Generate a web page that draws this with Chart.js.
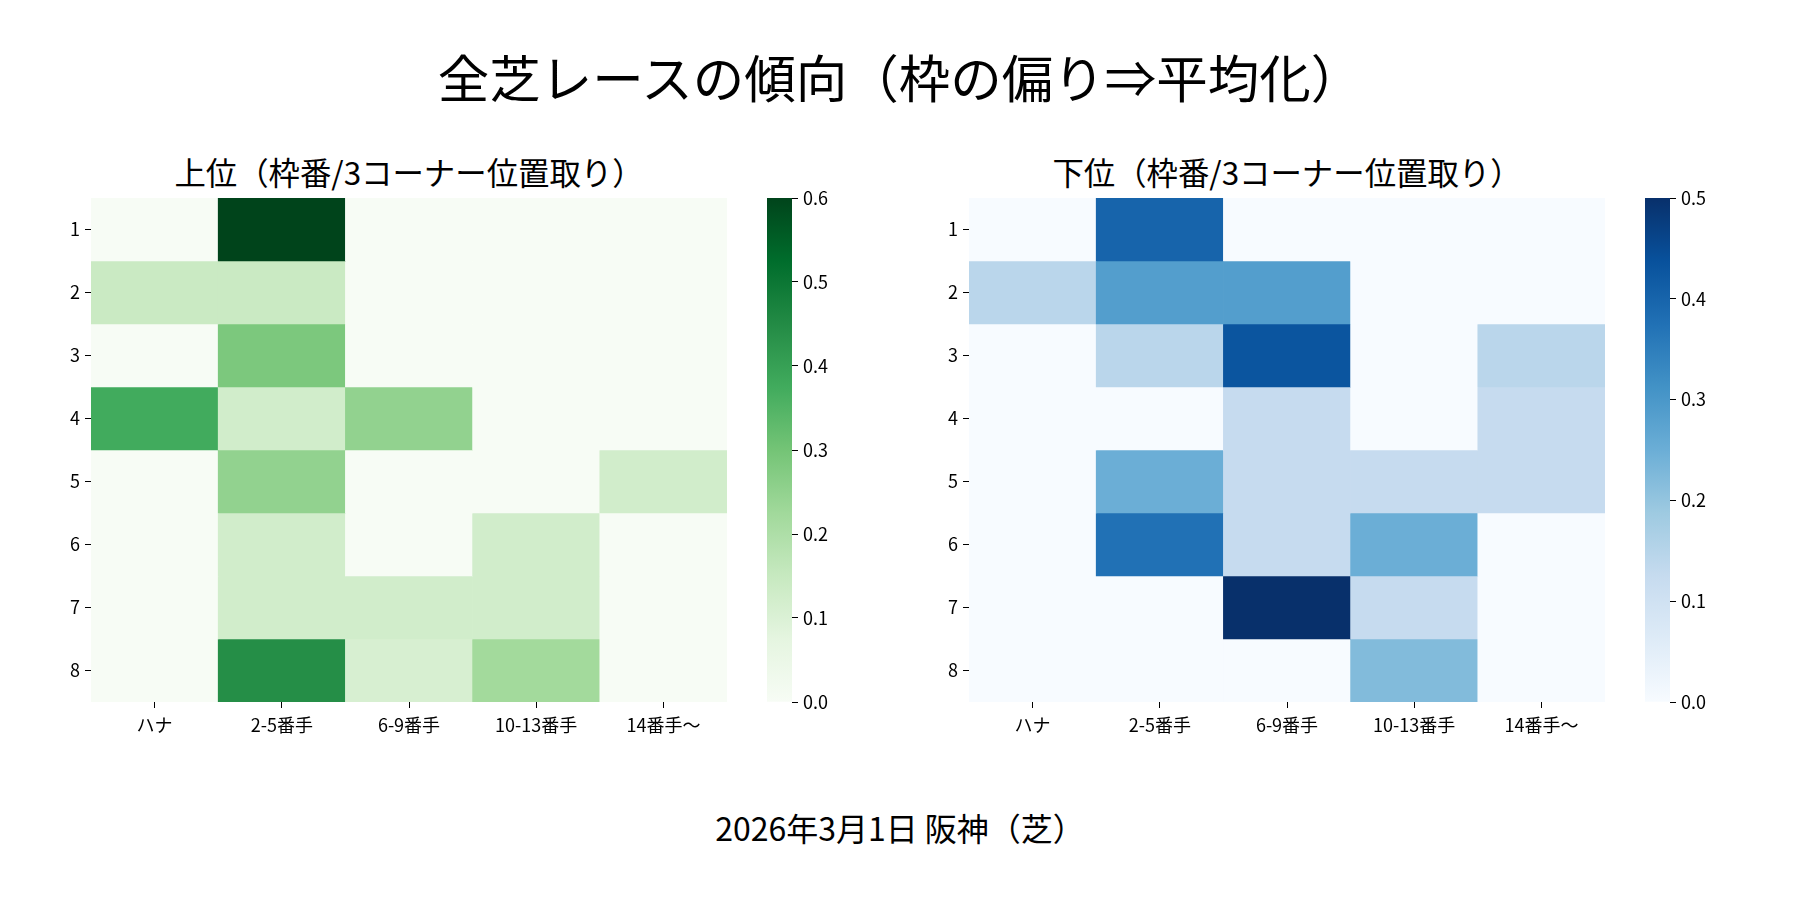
<!DOCTYPE html>
<html lang="ja">
<head>
    <meta charset="UTF-8">
    <title>全芝レースの傾向</title>
    <script src="https://cdn.jsdelivr.net/npm/chart.js"></script>
    <style>
        body {
            margin: 0;
            background: #fff;
            font-family: "Noto Sans CJK JP", sans-serif;
        }
        #page {
            position: relative;
            width: 1800px;
            height: 900px;
            overflow: hidden;
        }
        .txt {
            position: absolute;
            transform: translate(-50%, -50%);
            white-space: nowrap;
            line-height: 1;
            color: #000;
        }
        .box {
            position: absolute;
            line-height: 0;
        }
    </style>
</head>
<body>
<div id="page">
    <div class="txt" style="left:900px; top:76px; font-size:51.5px;">全芝レースの傾向（枠の偏り⇒平均化）</div>
    <div class="txt" style="left:409px; top:172px; font-size:31.4px;">上位（枠番/3コーナー位置取り）</div>
    <div class="txt" style="left:1287px; top:172px; font-size:31.4px;">下位（枠番/3コーナー位置取り）</div>
    <div class="txt" style="left:900px; top:827px; font-size:32px;">2026年3月1日 阪神（芝）</div>

    <div class="box" style="left:0px; top:181px;"><canvas id="topHeat" width="737" height="581"></canvas></div>
    <div class="box" style="left:767px; top:181px;"><canvas id="topBar" width="85" height="538"></canvas></div>
    <div class="box" style="left:878px; top:181px;"><canvas id="bottomHeat" width="737" height="581"></canvas></div>
    <div class="box" style="left:1645px; top:181px;"><canvas id="bottomBar" width="85" height="538"></canvas></div>
</div>

<script>
    // columns = position at the 3rd corner, rows = gate (frame) number
    const columns = ["ハナ", "2-5番手", "6-9番手", "10-13番手", "14番手〜"];
    const frames = [1, 2, 3, 4, 5, 6, 7, 8];

    // 上位 (Greens)
    const topValues = [
        [0, 0.6, 0, 0, 0],
        [0.143, 0.143, 0, 0, 0],
        [0, 0.286, 0, 0, 0],
        [0.375, 0.125, 0.25, 0, 0],
        [0, 0.25, 0, 0, 0.125],
        [0, 0.125, 0, 0.125, 0],
        [0, 0.125, 0.125, 0.125, 0],
        [0, 0.444, 0.111, 0.222, 0]
    ];

    // 下位 (Blues)
    const bottomValues = [
        [0, 0.4, 0, 0, 0],
        [0.143, 0.286, 0.286, 0, 0],
        [0, 0.143, 0.429, 0, 0.143],
        [0, 0, 0.125, 0, 0.125],
        [0, 0.25, 0.125, 0.125, 0.125],
        [0, 0.375, 0.125, 0.25, 0],
        [0, 0, 0.5, 0.125, 0],
        [0, 0, 0, 0.222, 0]
    ];

    const topTicks = [0, 0.1, 0.2, 0.3, 0.4, 0.5, 0.6];
    const bottomTicks = [0, 0.1, 0.2, 0.3, 0.4, 0.5];

    // colorbrewer stops used by matplotlib
    const greens = ["#f7fcf5", "#e5f5e0", "#c7e9c0", "#a1d99b", "#74c476", "#41ab5d", "#238b45", "#006d2c", "#00441b"];
    const blues = ["#f7fbff", "#deebf7", "#c6dbef", "#9ecae1", "#6baed6", "#4292c6", "#2171b5", "#08519c", "#08306b"];

    const FONT = "'Noto Sans CJK JP', sans-serif";

    function hexToRgb(h) {
        return [1, 3, 5].map(i => parseInt(h.substr(i, 2), 16));
    }

    function makeCmap(stops) {
        const rgb = stops.map(hexToRgb);
        return function (t) {
            t = Math.min(1, Math.max(0, t));
            const pos = t * (rgb.length - 1);
            const i = Math.min(Math.floor(pos), rgb.length - 2);
            const f = pos - i;
            const c = rgb[i].map((v, k) => Math.round(v + (rgb[i + 1][k] - v) * f));
            return `rgb(${c[0]}, ${c[1]}, ${c[2]})`;
        };
    }

    const tickGrid = {
        drawOnChartArea: false,
        drawTicks: true,
        tickLength: 6,
        color: "#000",
        lineWidth: 1
    };
    const tickFont = { family: FONT, size: 18 };

    function heatmap(id, values, stops) {
        const cmap = makeCmap(stops);
        const vmax = Math.max(...values.flat());

        const datasets = frames.map((f, r) => ({
            data: columns.map(() => [f - 0.5, f + 0.5]),
            backgroundColor: values[r].map(v => cmap(v / vmax)),
            borderWidth: 0,
            grouped: false,
            barPercentage: 1,
            categoryPercentage: 1
        }));

        new Chart(document.getElementById(id), {
            type: "bar",
            data: { labels: columns, datasets: datasets },
            options: {
                responsive: false,
                animation: false,
                layout: { padding: { top: 17, right: 10, left: 0, bottom: 0 } },
                plugins: { legend: { display: false }, tooltip: { enabled: false } },
                scales: {
                    x: {
                        grid: Object.assign({ offset: false }, tickGrid),
                        border: { display: false },
                        ticks: { color: "#000", font: tickFont, padding: 6, maxRotation: 0 },
                        afterFit: axis => { axis.height = 60; }
                    },
                    y: {
                        type: "linear",
                        reverse: true,
                        min: 0.5,
                        max: 8.5,
                        grid: tickGrid,
                        border: { display: false },
                        afterBuildTicks: axis => { axis.ticks = frames.map(v => ({ value: v })); },
                        ticks: { color: "#000", font: tickFont, padding: 5, callback: v => String(v) },
                        afterFit: axis => { axis.width = 91; }
                    }
                }
            }
        });
        return vmax;
    }

    function colorbar(id, stops, vmax, tickValues) {
        new Chart(document.getElementById(id), {
            type: "bar",
            data: {
                labels: [""],
                datasets: [{
                    data: [[0, vmax]],
                    backgroundColor: ctx => {
                        const area = ctx.chart.chartArea;
                        if (!area) return stops[0];
                        const g = ctx.chart.ctx.createLinearGradient(0, area.bottom, 0, area.top);
                        stops.forEach((c, i) => g.addColorStop(i / (stops.length - 1), c));
                        return g;
                    },
                    borderWidth: 0,
                    barPercentage: 1,
                    categoryPercentage: 1
                }]
            },
            options: {
                responsive: false,
                animation: false,
                layout: { padding: { top: 17, bottom: 17, left: 0, right: 0 } },
                plugins: { legend: { display: false }, tooltip: { enabled: false } },
                scales: {
                    x: { display: false },
                    y: {
                        position: "right",
                        min: 0,
                        max: vmax,
                        grid: tickGrid,
                        border: { display: false },
                        afterBuildTicks: axis => { axis.ticks = tickValues.map(v => ({ value: v })); },
                        ticks: { color: "#000", font: tickFont, padding: 5, callback: v => v.toFixed(1) },
                        afterFit: axis => { axis.width = 60; }
                    }
                }
            }
        });
    }

    const topMax = heatmap("topHeat", topValues, greens);
    colorbar("topBar", greens, topMax, topTicks);

    const bottomMax = heatmap("bottomHeat", bottomValues, blues);
    colorbar("bottomBar", blues, bottomMax, bottomTicks);
</script>
</body>
</html>
